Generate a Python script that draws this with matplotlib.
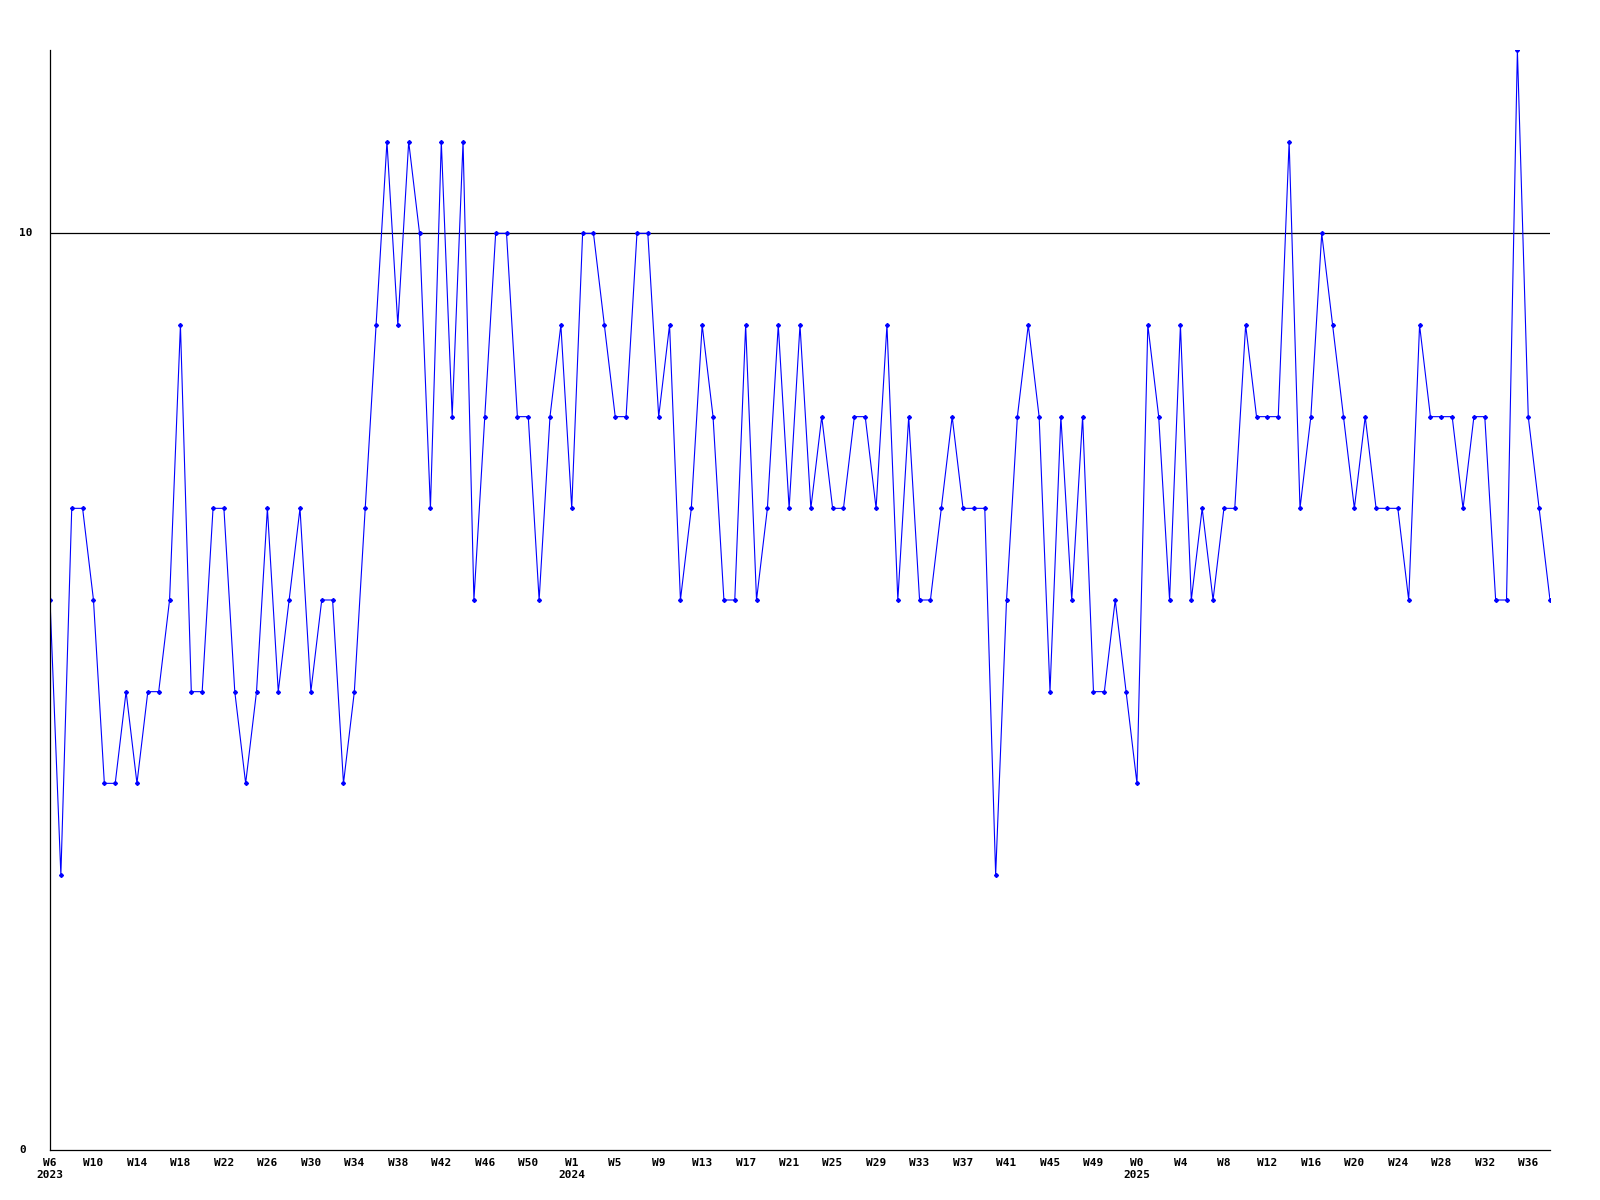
import matplotlib.pyplot as plt

# weekly counts, one value per week, 2023 W6 .. 2025 W38
values = [
    6, 3, 7, 7, 6, 4, 4, 5, 4, 5, 5, 6, 9, 5, 5, 7, 7, 5, 4, 5,
    7, 5, 6, 7, 5, 6, 6, 4, 5, 7, 9, 11, 9, 11, 10, 7, 11, 8, 11, 6,
    8, 10, 10, 8, 8, 6, 8, 9, 7, 10, 10, 9, 8, 8, 10, 10, 8, 9, 6, 7,
    9, 8, 6, 6, 9, 6, 7, 9, 7, 9, 7, 8, 7, 7, 8, 8, 7, 9, 6, 8,
    6, 6, 7, 8, 7, 7, 7, 3, 6, 8, 9, 8, 5, 8, 6, 8, 5, 5, 6, 5,
    4, 9, 8, 6, 9, 6, 7, 6, 7, 7, 9, 8, 8, 8, 11, 7, 8, 10, 9, 8,
    7, 8, 7, 7, 7, 6, 9, 8, 8, 8, 7, 8, 8, 6, 6, 12, 8, 7, 6,
]

# labels shown under every 4th week
week_labels = [
    'W6', 'W10', 'W14', 'W18', 'W22', 'W26', 'W30', 'W34', 'W38', 'W42',
    'W46', 'W50', 'W1', 'W5', 'W9', 'W13', 'W17', 'W21', 'W25', 'W29',
    'W33', 'W37', 'W41', 'W45', 'W49', 'W0', 'W4', 'W8', 'W12', 'W16',
    'W20', 'W24', 'W28', 'W32', 'W36',
]
year_labels = {'W6': '2023', 'W1': '2024', 'W0': '2025'}

y_ticks = [0, 10]
y_max = 12
ref_line = 10

fig = plt.figure(figsize=(16, 12), dpi=100)
ax = fig.add_axes([50 / 1600, 1 - 1150 / 1200, 1500 / 1600, 1100 / 1200])

x = list(range(len(values)))
ax.plot(x, values, color='#0000ff', linewidth=0.8, marker='D', markersize=2.0,
        markerfacecolor='#0000ff', markeredgecolor='#0000ff')

ax.axhline(ref_line, color='black', linewidth=0.9, zorder=0)

ax.set_xlim(0, len(values) - 1)
ax.set_ylim(0, y_max)

for s in ['top', 'right']:
    ax.spines[s].set_visible(False)
for s in ['left', 'bottom']:
    ax.spines[s].set_linewidth(0.9)

tick_pos = list(range(0, len(values), 4))[:len(week_labels)]
labels = [w + ('\n' + year_labels[w] if w in year_labels else '\n') for w in week_labels]
ax.set_xticks(tick_pos)
ax.set_xticklabels(labels, fontfamily='DejaVu Sans Mono', fontweight='bold',
                   fontsize=8, linespacing=1.2, va='top')
ax.tick_params(axis='x', length=0, pad=6)

ax.set_yticks([])
for v in y_ticks:
    ax.text(-31 / 1500, v, str(v), transform=ax.get_yaxis_transform(),
            ha='left', va='center', fontfamily='DejaVu Sans Mono',
            fontweight='bold', fontsize=8)

fig.savefig('out.png', dpi=100)
